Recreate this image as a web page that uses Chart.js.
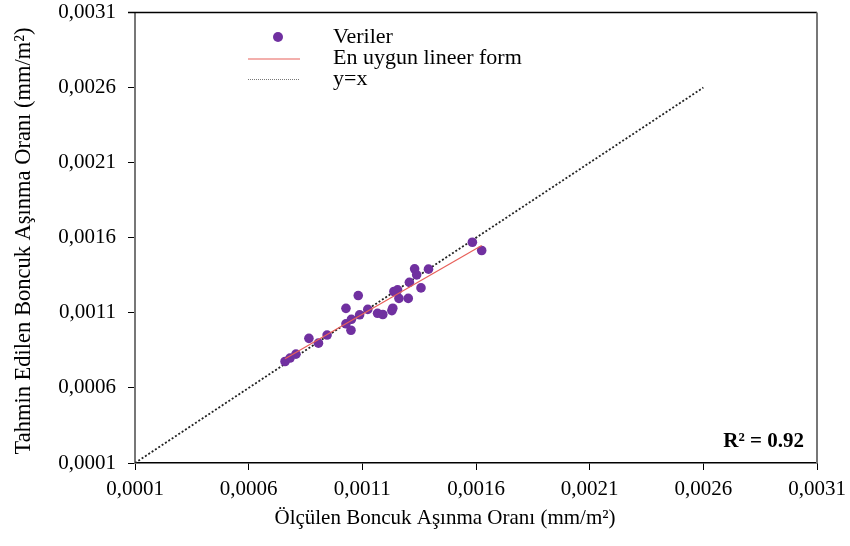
<!DOCTYPE html>
<html>
<head>
<meta charset="utf-8">
<script src="https://cdn.jsdelivr.net/npm/chart.js@4.4.0/dist/chart.umd.min.js"></script>
<style>
  html, body { margin: 0; padding: 0; background: #fff; }
  #wrap { width: 850px; height: 546px; }
</style>
</head>
<body>
<div id="wrap"><canvas id="c" width="850" height="546"></canvas></div>
<script>
// Measured (x) and predicted (y) bead wear rates, mm/m²
const measured = [
  0.000760, 0.000782, 0.000808, 0.000865, 0.000907, 0.000945, 0.001028,
  0.001028, 0.001052, 0.001050, 0.001082, 0.001088, 0.001124, 0.001167,
  0.001190, 0.001230, 0.001234, 0.001239, 0.001255, 0.001261, 0.001302,
  0.001307, 0.001330, 0.001339, 0.001358, 0.001391, 0.001584, 0.001625
];
const predicted = [
  0.000776, 0.000799, 0.000825, 0.000930, 0.000898, 0.000952, 0.001130,
  0.001027, 0.001057, 0.000984, 0.001215, 0.001087, 0.001123, 0.001097,
  0.001089, 0.001115, 0.001131, 0.001242, 0.001253, 0.001196, 0.001196,
  0.001303, 0.001393, 0.001353, 0.001266, 0.001391, 0.001570, 0.001515
];

// Best-fit line end points and the y = x reference line
const fitX = [0.000760, 0.001625];
const fitY = [0.000794, 0.001548];
const identityX = [0.0001, 0.0026];
const identityY = [0.0001, 0.0026];

// Shared tick values and labels for both axes
const tickValues = [0.0001, 0.0006, 0.0011, 0.0016, 0.0021, 0.0026, 0.0031];
const tickLabels = ['0,0001', '0,0006', '0,0011', '0,0016', '0,0021', '0,0026', '0,0031'];

const legendLabels = ['Veriler', 'En uygun lineer form', 'y=x'];
const xTitle = 'Ölçülen Boncuk Aşınma Oranı (mm/m²)';
const yTitle = 'Tahmin Edilen Boncuk Aşınma Oranı (mm/m²)';
const r2Label = 'R² = 0.92';

const SERIF = '"Liberation Serif", "Times New Roman", serif';
const POINT_COLOR = '#7030a0';
const FIT_COLOR = '#e8605a';

const toPoints = (xs, ys) => xs.map((x, i) => ({ x: x, y: ys[i] }));

const decorations = {
  id: 'decorations',
  afterDraw(chart) {
    const ctx = chart.ctx;
    const a = chart.chartArea;
    ctx.save();

    // top and right edges of the frame
    ctx.lineWidth = 1.5;
    ctx.strokeStyle = '#000';
    ctx.beginPath();
    ctx.moveTo(a.left - 7, a.top);
    ctx.lineTo(a.right, a.top);
    ctx.stroke();
    ctx.lineWidth = 2;
    ctx.strokeStyle = '#777';
    ctx.beginPath();
    ctx.moveTo(a.right, a.top);
    ctx.lineTo(a.right, a.bottom);
    ctx.stroke();

    // axis titles
    ctx.fillStyle = '#000';
    ctx.font = '21px ' + SERIF;
    ctx.textAlign = 'center';
    ctx.textBaseline = 'middle';
    ctx.fillText(xTitle, 445, 518);
    ctx.save();
    ctx.translate(24, 241);
    ctx.rotate(-Math.PI / 2);
    ctx.font = '22.5px ' + SERIF;
    ctx.fillText(yTitle, 0, 0);
    ctx.restore();

    // legend
    const ds = chart.data.datasets;
    const rows = [37, 58, 79];
    ctx.font = '22px ' + SERIF;
    ctx.textAlign = 'left';
    ctx.textBaseline = 'middle';
    legendLabels.forEach((t, i) => ctx.fillText(t, 333, rows[i]));

    ctx.fillStyle = ds[0].backgroundColor;
    ctx.beginPath();
    ctx.arc(278, rows[0], 5, 0, Math.PI * 2);
    ctx.fill();

    ctx.strokeStyle = ds[1].borderColor;
    ctx.lineWidth = 1.2;
    ctx.beginPath();
    ctx.moveTo(248, rows[1] + 1);
    ctx.lineTo(300, rows[1] + 1);
    ctx.stroke();

    ctx.strokeStyle = '#777';
    ctx.lineWidth = 1;
    ctx.setLineDash([1, 1]);
    ctx.beginPath();
    ctx.moveTo(248, rows[2] + 0.5);
    ctx.lineTo(300, rows[2] + 0.5);
    ctx.stroke();
    ctx.setLineDash([]);

    // coefficient of determination
    ctx.fillStyle = '#000';
    ctx.font = 'bold 21px ' + SERIF;
    ctx.textAlign = 'right';
    ctx.textBaseline = 'middle';
    ctx.fillText(r2Label, 804, 442);

    ctx.restore();
  }
};

const axisCommon = (borderColor, borderWidth) => ({
  type: 'linear',
  min: tickValues[0],
  max: tickValues[tickValues.length - 1],
  afterBuildTicks: (s) => { s.ticks = tickValues.map(v => ({ value: v })); },
  ticks: {
    callback: (v, i) => tickLabels[i],
    autoSkip: false,
    maxRotation: 0,
    color: '#000',
    font: { family: SERIF, size: 21 }
  },
  grid: {
    drawOnChartArea: false,
    drawTicks: true,
    tickLength: 7,
    color: '#000',
    lineWidth: 1
  },
  border: { display: true, color: borderColor, width: borderWidth }
});

const xAxis = axisCommon('#000', 1.5);
xAxis.ticks.padding = 7;
xAxis.afterFit = (s) => { s.height = 83; s.paddingLeft = 0; s.paddingRight = 0; };

const yAxis = axisCommon('#777', 2);
yAxis.ticks.padding = 12;
yAxis.afterFit = (s) => { s.width = 135; s.paddingTop = 0; s.paddingBottom = 0; };

new Chart(document.getElementById('c'), {
  type: 'scatter',
  data: {
    datasets: [
      {
        label: legendLabels[0],
        data: toPoints(measured, predicted),
        backgroundColor: POINT_COLOR,
        borderWidth: 0,
        pointRadius: 4.8,
        order: 2
      },
      {
        label: legendLabels[1],
        data: toPoints(fitX, fitY),
        showLine: true,
        borderColor: FIT_COLOR,
        borderWidth: 1.2,
        pointRadius: 0,
        order: 1
      },
      {
        label: legendLabels[2],
        data: toPoints(identityX, identityY),
        showLine: true,
        borderColor: '#222',
        borderWidth: 1.8,
        borderDash: [2, 2],
        pointRadius: 0,
        order: 3
      }
    ]
  },
  options: {
    responsive: false,
    animation: false,
    layout: { padding: { top: 12.5, right: 33, left: 0, bottom: 0 } },
    plugins: {
      legend: { display: false },
      tooltip: { enabled: false }
    },
    scales: { x: xAxis, y: yAxis }
  },
  plugins: [decorations]
});
</script>
</body>
</html>
